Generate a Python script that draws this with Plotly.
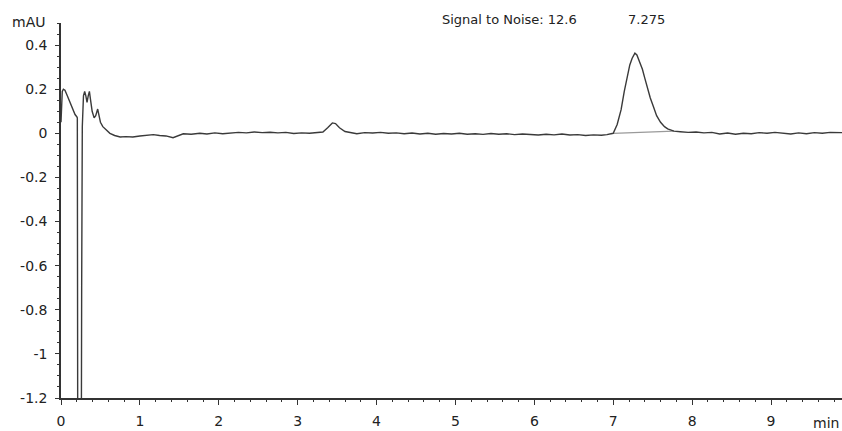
import plotly.graph_objects as go

# Chromatogram trace (time in min, signal in mAU)
time_min = [
    0.0, 0.016, 0.03, 0.05, 0.08, 0.114, 0.15, 0.178, 0.2, 0.207, 0.212,
    0.258, 0.262, 0.27, 0.285, 0.30, 0.315, 0.33, 0.345, 0.36, 0.375, 0.395,
    0.42, 0.44, 0.465, 0.48, 0.50, 0.53, 0.57, 0.62, 0.68, 0.75, 0.82, 0.91,
    1.0, 1.08, 1.17, 1.25, 1.33, 1.42, 1.48, 1.55, 1.65, 1.76,
    1.85, 1.95, 2.05, 2.15, 2.25, 2.35, 2.45, 2.55, 2.65, 2.75, 2.85, 2.95,
    3.05, 3.15, 3.25, 3.32, 3.38, 3.44, 3.48, 3.53, 3.6, 3.68, 3.75, 3.85,
    3.95, 4.05, 4.15, 4.25, 4.35, 4.45, 4.55, 4.65, 4.75, 4.85, 4.95, 5.05,
    5.15, 5.25, 5.35, 5.45, 5.55, 5.65, 5.75, 5.85, 5.95, 6.05, 6.15, 6.25,
    6.35, 6.45, 6.55, 6.65, 6.75, 6.85, 6.92, 7.0, 7.05, 7.1, 7.14, 7.18,
    7.21, 7.24, 7.275, 7.30, 7.33, 7.37, 7.40, 7.43, 7.47, 7.51, 7.55, 7.60,
    7.65, 7.69, 7.73, 7.77, 7.85, 7.95, 8.05, 8.15, 8.25, 8.35, 8.45, 8.55,
    8.65, 8.75, 8.85, 8.95, 9.05, 9.15, 9.25, 9.35, 9.45, 9.55, 9.65, 9.75,
    9.85, 9.92,
]
signal_mau = [
    0.05, 0.19, 0.20, 0.195, 0.17, 0.14, 0.11, 0.085, 0.075, 0.07, -1.35,
    -1.35, -0.69, 0.03, 0.17, 0.19, 0.17, 0.14, 0.17, 0.19, 0.15, 0.10,
    0.07, 0.08, 0.11, 0.08, 0.05, 0.03, 0.015, 0.0, -0.01, -0.017, -0.015, -0.017,
    -0.012, -0.01, -0.006, -0.01, -0.012, -0.02, -0.012, -0.002, -0.004, 0.0,
    -0.003, 0.002, -0.002, 0.001, 0.004, 0.002, 0.006, 0.003, 0.005, 0.002, 0.004, -0.001,
    0.002, 0.0, 0.003, 0.006, 0.025, 0.047, 0.044, 0.025, 0.008, 0.004, -0.002, 0.003,
    0.001, 0.004, 0.0, 0.002, -0.002, 0.001, -0.003, 0.0, -0.004, -0.001, -0.003, 0.0,
    -0.004, -0.002, -0.005, -0.001, -0.004, -0.002, -0.006, -0.003, -0.005, -0.008, -0.004, -0.007,
    -0.003, -0.008, -0.006, -0.01, -0.007, -0.009, -0.006, 0.0, 0.04, 0.107, 0.19, 0.26,
    0.31, 0.34, 0.363, 0.355, 0.33, 0.29, 0.25, 0.21, 0.16, 0.12, 0.08, 0.05,
    0.03, 0.02, 0.014, 0.01, 0.007, 0.004, 0.006, 0.002, 0.004, -0.003, 0.001, -0.004,
    0.0, -0.002, 0.003, 0.0, 0.004, 0.001, -0.003, 0.002, -0.002, 0.003, 0.0, 0.004,
    0.002, 0.003,
]

# Integration baseline under the main peak
baseline_t = [7.0, 7.77]
baseline_v = [0.0, 0.01]

y_tickvals = [0.4, 0.2, 0.0, -0.2, -0.4, -0.6, -0.8, -1.0, -1.2]
y_ticktext = ["0.4", "0.2", "0", "-0.2", "-0.4", "-0.6", "-0.8", "-1", "-1.2"]
x_tickvals = [0, 1, 2, 3, 4, 5, 6, 7, 8, 9]
x_ticktext = ["0", "1", "2", "3", "4", "5", "6", "7", "8", "9"]

peak_label = "7.275"
sn_label = "Signal to Noise: 12.6"

font_family = "DejaVu Sans, Liberation Sans, Arial, sans-serif"
ax_color = "#333333"

fig = go.Figure()
fig.add_trace(go.Scatter(x=baseline_t, y=baseline_v, mode="lines",
                         line=dict(color="#9a9a9a", width=1.2),
                         showlegend=False, hoverinfo="skip"))
fig.add_trace(go.Scatter(x=time_min, y=signal_mau, mode="lines",
                         line=dict(color="#3a3a3a", width=1.4),
                         showlegend=False))

fig.update_layout(
    width=842, height=431,
    margin=dict(l=61, r=0, t=23, b=33),
    paper_bgcolor="white", plot_bgcolor="white",
    font=dict(family=font_family, size=14, color="#222222"),
    xaxis=dict(range=[0, 9.9], showgrid=False, zeroline=False,
               showline=True, linecolor=ax_color, linewidth=1.5,
               tickmode="array", tickvals=x_tickvals, ticktext=x_ticktext,
               ticks="outside", ticklen=5, tickwidth=1.2, tickcolor=ax_color,
               minor=dict(dtick=0.2, ticks="outside", ticklen=2,
                          tickwidth=1, tickcolor=ax_color, showgrid=False),
               ticklabelstandoff=4),
    yaxis=dict(range=[-1.2, 0.5], showgrid=False, zeroline=False,
               showline=True, linecolor=ax_color, linewidth=1.5,
               tickmode="array", tickvals=y_tickvals, ticktext=y_ticktext,
               ticks="outside", ticklen=4, tickwidth=1.2, tickcolor=ax_color,
               minor=dict(dtick=0.05, ticks="outside", ticklen=2,
                          tickwidth=1, tickcolor=ax_color, showgrid=False),
               ticklabelstandoff=5),
    annotations=[
        dict(text="mAU", xref="paper", yref="paper", x=0, y=1,
             xanchor="right", yanchor="middle", xshift=-14, yshift=1,
             showarrow=False, font=dict(size=14)),
        dict(text="min", xref="paper", yref="paper", x=1, y=0,
             xanchor="right", yanchor="middle", xshift=-1, yshift=-25,
             showarrow=False, font=dict(size=14)),
        dict(text=sn_label, xref="x", yref="paper", x=4.81, y=1,
             xanchor="left", yanchor="middle", yshift=4,
             showarrow=False, font=dict(size=13)),
        dict(text=peak_label, xref="x", yref="paper", x=7.16, y=1,
             xanchor="left", yanchor="middle", yshift=4,
             showarrow=False, font=dict(size=13)),
    ],
)

fig.write_html("out.html")
